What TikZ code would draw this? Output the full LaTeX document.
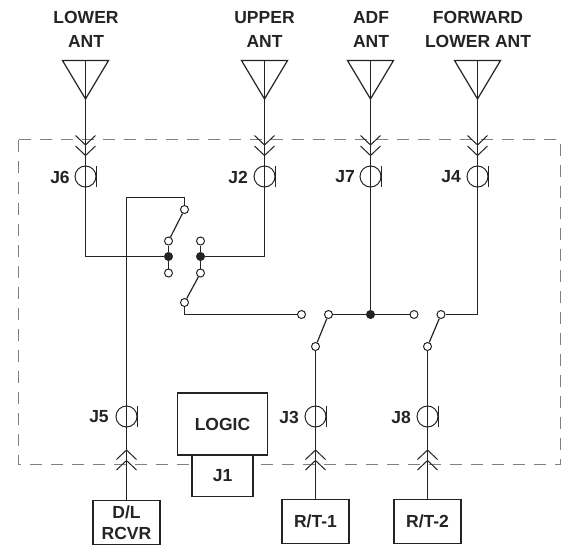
\documentclass[tikz,border=0pt]{standalone}
\usepackage{fontspec}
\setmainfont{Liberation Sans}
\definecolor{ink}{gray}{0.14}
\definecolor{dashgray}{gray}{0.5}
\tikzset{
  wire/.style={draw=ink,line width=1.2pt},
  term/.style={circle,draw=ink,line width=1pt,fill=white,inner sep=0pt,minimum size=8pt},
  junction/.style={circle,draw=ink,fill=ink,inner sep=0pt,minimum size=8.5pt},
  jackring/.style={circle,draw=ink,line width=1pt,inner sep=0pt,minimum size=21pt},
  unit/.style={rectangle,draw=ink,line width=1.2pt,fill=white,inner sep=0pt,text=ink,font=\fontsize{17.5}{21}\selectfont\bfseries,align=center},
  lbl/.style={text=ink,inner sep=0pt,font=\fontsize{17.5}{24}\selectfont\bfseries,align=center},
  antenna/.pic={\draw[wire,line join=miter] (-23,0) -- (23,0) -- (0,38.5) -- cycle;},
  chevdown/.pic={\draw[wire,line width=1pt] (-10,-9.5) -- (0,0) -- (10,-9.5);},
  chevup/.pic={\draw[wire,line width=1pt] (-10,9.5) -- (0,0) -- (10,9.5);},
  jackbar/.pic={\draw[draw=ink,line width=1pt] (10.5,-10.5) -- (10.5,10.5);}
}
\begin{document}
\begin{tikzpicture}[x=1pt,y=-1pt]
\useasboundingbox (0,0) rectangle (564,546);
% enclosure
\draw[dashgray,line width=1.1pt,dash pattern=on 12pt off 9pt] (18.5,139.5) -- (560.5,139.5) -- (560.5,464.5) -- (18.5,464.5) -- cycle;

% antenna tops and upper connectors
\coordinate (atopA) at (85.5,60.5);
\coordinate (atopB) at (264.5,60.5);
\coordinate (atopC) at (370.5,60.5);
\coordinate (atopD) at (477.5,60.5);
\foreach \x in {85.5,264.5,370.5,477.5}{
  \pic at (\x,60.5) {antenna};
  \pic at (\x,145) {chevdown};
  \pic at (\x,155.5) {chevdown};
}
% lower connectors
\foreach \x in {126.5,315.5,427.5}{
  \pic at (\x,450) {chevup};
  \pic at (\x,460.5) {chevup};
}

% jacks
\node[jackring] (j6) at (85.5,176.5) {};
\node[jackring] (j2) at (264.5,176.5) {};
\node[jackring] (j7) at (370.5,176.5) {};
\node[jackring] (j4) at (477.5,176.5) {};
\node[jackring] (j5) at (126.5,416.5) {};
\node[jackring] (j3) at (315.5,416.5) {};
\node[jackring] (j8) at (427.5,416.5) {};
\foreach \x/\y in {85.5/176.5,264.5/176.5,370.5/176.5,477.5/176.5,126.5/416.5,315.5/416.5,427.5/416.5}{
  \pic at (\x,\y) {jackbar};
}

% connectors
\draw[wire] (atopA) -- (j6.center);
\draw[wire] (atopB) -- (j2.center);
\draw[wire] (atopC) -- (j7.center);
\draw[wire] (atopD) -- (j4.center);

% switch contacts
\node[term] (s1a) at (184.5,209.5) {};
\node[term] (s1b) at (168.5,241) {};
\node[junction] (s1c) at (168.5,256.5) {};
\node[term] (s1d) at (168.5,273) {};
\node[term] (s2a) at (200.5,241) {};
\node[junction] (s2c) at (200.5,256.5) {};
\node[term] (s2d) at (200.5,273) {};
\node[term] (s2e) at (184.5,302.5) {};
\node[term] (s3a) at (301.5,314.5) {};
\node[term] (s3b) at (328.5,314.5) {};
\node[junction] (s3c) at (370.5,314.5) {};
\node[term] (s3d) at (414,314.5) {};
\node[term] (s4b) at (441,314.5) {};
\node[term] (s3e) at (315.5,346.5) {};
\node[term] (s4e) at (427.5,346.5) {};
\coordinate (sw) at (126.5,197.5);

% units
\node[unit,line width=1.4pt,minimum width=90pt,minimum height=62pt] (logic) at (222.5,424) {LOGIC};
\node[unit,minimum width=61pt,minimum height=41pt] (j1) at (222.5,476) {J1};
\node[unit,minimum width=67pt,minimum height=44pt] (dl) at (126.5,522.5) {D/L\\RCVR};
\node[unit,minimum width=67pt,minimum height=44pt] (rt1) at (315.5,521.5) {R/T-1};
\node[unit,minimum width=67pt,minimum height=44pt] (rt2) at (427.5,521.5) {R/T-2};

\draw[wire] (j6.center) |- (s1c);
\draw[wire] (j2.center) |- (s2c);
\draw[wire] (j7.center) -- (s3c);
\draw[wire] (j4.center) |- (s4b);
\draw[wire] (j5.center) -- (sw) -| (s1a);
\draw[wire] (s1a) -- (s1b);
\draw[wire] (s1b) -- (s1c);
\draw[wire] (s1c) -- (s1d);
\draw[wire] (s2a) -- (s2c);
\draw[wire] (s2c) -- (s2d);
\draw[wire] (s2d) -- (s2e);
\draw[wire] (s2e) |- (s3a);
\draw[wire] (s3b) -- (s3c);
\draw[wire] (s3c) -- (s3d);
\draw[wire] (s3e) -- (s3b);
\draw[wire] (s4e) -- (s4b);
\draw[wire] (s3e) -- (j3.center);
\draw[wire] (s4e) -- (j8.center);
\draw[wire] (j5.center) -- (dl.north);
\draw[wire] (j3.center) -- (rt1.north);
\draw[wire] (j8.center) -- (rt2.north);

% labels
\node[lbl] (t1) at (86,29) {LOWER\\ANT};
\node[lbl] (t2) at (264.5,29) {UPPER\\ANT};
\node[lbl] (t3) at (371,29) {ADF\\ANT};
\node[lbl] (t4) at (478,29) {FORWARD\\LOWER ANT};
\node[lbl] (l6) at (60,177) {J6};
\node[lbl] (l2) at (238,177) {J2};
\node[lbl] (l7) at (345,177) {J7};
\node[lbl] (l4) at (451,177) {J4};
\node[lbl] (l5) at (99,417) {J5};
\node[lbl] (l3) at (289,417) {J3};
\node[lbl] (l8) at (401,417) {J8};
\end{tikzpicture}
\end{document}
